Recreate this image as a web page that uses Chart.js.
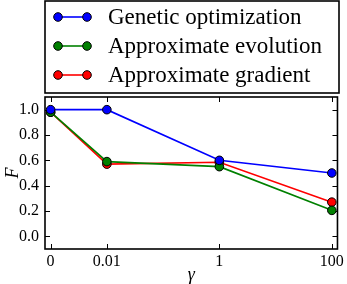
<!DOCTYPE html>
<html><head><meta charset="utf-8">
<script src="https://cdn.jsdelivr.net/npm/chart.js@4"></script>
<style>html,body{margin:0;padding:0;background:#fff}#w{width:347px;height:284px}</style>
</head><body><div id="w"><canvas id="c"></canvas></div>
<script>
const gammaLabels = ['0', '0.01', '1', '100'];
const gammaValues = [0, 0.01, 1, 100];
const seriesNames = ['Genetic optimization', 'Approximate evolution', 'Approximate gradient'];
const geneticOpt = [1.0, 1.0, 0.60, 0.50];
const approxEvol = [0.98, 0.59, 0.55, 0.205];
const approxGrad = [0.98, 0.57, 0.585, 0.27];
const yTicks = [0.0, 0.2, 0.4, 0.6, 0.8, 1.0];
const colors = ['#0000ff', '#008000', '#ff0000'];

// symlog transform (linear below 0.01)
function symlog(v) { return v <= 0.01 ? v / 0.01 : Math.log10(v / 0.01) + 1; }
const xPos = gammaValues.map(symlog);

function pts(arr) { return arr.map((y, i) => ({x: xPos[i], y})); }
const allSeries = [geneticOpt, approxEvol, approxGrad];
const datasets = allSeries.map((s, i) => ({
  label: seriesNames[i], data: pts(s), borderColor: colors[i], backgroundColor: colors[i],
  pointBorderColor: '#000', pointBorderWidth: 1, pointRadius: 4.3, borderWidth: 1.6, tension: 0
}));

const SERIF = '"Liberation Serif", "DejaVu Serif", serif';

const frame = {
  id: 'frame',
  beforeDatasetsDraw(chart) {
    const {ctx, chartArea: a, scales} = chart;
    ctx.save();
    ctx.strokeStyle = '#000'; ctx.lineWidth = 1;
    const L = 5;
    scales.x.ticks.forEach(t => {
      const x = Math.round(scales.x.getPixelForValue(t.value)) + 0.5;
      ctx.beginPath(); ctx.moveTo(x, a.bottom); ctx.lineTo(x, a.bottom - L);
      ctx.moveTo(x, a.top); ctx.lineTo(x, a.top + L); ctx.stroke();
    });
    scales.y.ticks.forEach(t => {
      const y = Math.round(scales.y.getPixelForValue(t.value)) + 0.5;
      ctx.beginPath(); ctx.moveTo(a.left, y); ctx.lineTo(a.left + L, y);
      ctx.moveTo(a.right, y); ctx.lineTo(a.right - L, y); ctx.stroke();
    });
    ctx.lineWidth = 1.6;
    ctx.strokeRect(a.left, a.top, a.right - a.left, a.bottom - a.top);
    ctx.restore();
  },
  afterDraw(chart) {
    const {ctx} = chart;
    ctx.save();
    ctx.strokeStyle = '#000'; ctx.lineWidth = 1.6;
    ctx.strokeRect(45, 1, 294, 92);
    const rows = [17, 46, 75];
    chart.data.datasets.forEach((ds, i) => {
      const y = rows[i];
      ctx.strokeStyle = ds.borderColor; ctx.lineWidth = 1.6;
      ctx.beginPath(); ctx.moveTo(58, y); ctx.lineTo(87, y); ctx.stroke();
      [58, 87].forEach(x => {
        ctx.beginPath(); ctx.arc(x, y, 4.3, 0, Math.PI * 2);
        ctx.fillStyle = ds.backgroundColor; ctx.fill();
        ctx.strokeStyle = '#000'; ctx.lineWidth = 1; ctx.stroke();
      });
      ctx.fillStyle = '#000';
      ctx.font = '23px ' + SERIF;
      ctx.textBaseline = 'middle'; ctx.textAlign = 'left';
      ctx.fillText(ds.label, 108, y + 1);
    });
    ctx.restore();
  }
};

new Chart(document.getElementById('c'), {
  type: 'line',
  data: {datasets},
  plugins: [frame],
  options: {
    responsive: true, maintainAspectRatio: false, animation: false,
    layout: {padding: {top: 97, right: 8, left: 0, bottom: 0}},
    plugins: {legend: {display: false}, tooltip: {enabled: false}},
    scales: {
      x: {
        type: 'linear', min: -0.1, max: 5.1,
        afterBuildTicks(s) { s.ticks = xPos.map(v => ({value: v})); },
        afterFit(s) { s.height = 35; },
        grid: {display: false, drawTicks: false}, border: {display: false},
        ticks: {padding: 3, color: '#000', font: {family: SERIF, size: 16},
          callback(v) { const i = xPos.indexOf(v); return i >= 0 ? gammaLabels[i] : ''; }},
        title: {display: true, text: 'γ', color: '#000', font: {family: SERIF, size: 18, style: 'italic', lineHeight: 1.0}, padding: {top: 0, bottom: 0}}
      },
      y: {
        type: 'linear', min: -0.1, max: 1.1,
        afterBuildTicks(s) { s.ticks = yTicks.map(v => ({value: v})); },
        afterFit(s) { s.width = 45; },
        grid: {display: false, drawTicks: false}, border: {display: false},
        ticks: {padding: 6, color: '#000', font: {family: SERIF, size: 16},
          callback(v) { return v.toFixed(1); }},
        title: {display: true, text: 'F', color: '#000', font: {family: SERIF, size: 18, style: 'italic'}, padding: {top: 2, bottom: 0}}
      }
    }
  }
});
</script></body></html>
